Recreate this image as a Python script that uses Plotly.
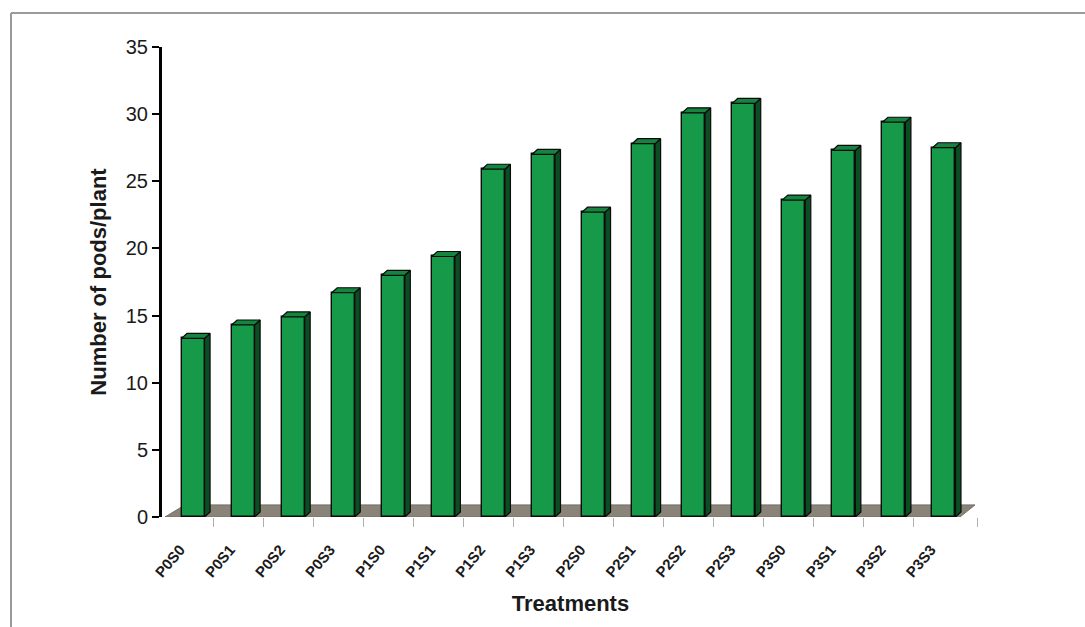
import plotly.graph_objects as go

# Treatment codes and mean number of pods per plant
treatments = ["P0S0", "P0S1", "P0S2", "P0S3", "P1S0", "P1S1", "P1S2", "P1S3",
              "P2S0", "P2S1", "P2S2", "P2S3", "P3S0", "P3S1", "P3S2", "P3S3"]
pods_per_plant = [13.3, 14.3, 14.9, 16.7, 18.0, 19.4, 25.9, 27.0,
                  22.7, 27.8, 30.1, 30.8, 23.6, 27.3, 29.4, 27.5]
y_ticks = [0, 5, 10, 15, 20, 25, 30, 35]

# pseudo-3D geometry (data units)
BAR_W = 0.46
DX, DY = 0.11, 0.37          # depth offset of bar tops/sides
FLOOR_DX, FLOOR_DY = 0.30, 0.9

xs = list(range(len(treatments)))

# canvas / plot-area layout in pixels
W, H = 1085, 627
L, R, T, B = 162, 106, 47, 110
X_RANGE = [-0.62, 15.7]
Y_RANGE = [0, 35]

fig = go.Figure()

# front faces
fig.add_trace(go.Bar(
    x=xs, y=pods_per_plant, width=BAR_W,
    marker=dict(color="#17994a", line=dict(color="#0a0a0a", width=1.4)),
    hoverinfo="skip", showlegend=False,
))

# right side faces and top faces as filled polygons
side_x, side_y, top_x, top_y = [], [], [], []
for x, v in zip(xs, pods_per_plant):
    xl, xr = x - BAR_W / 2, x + BAR_W / 2
    side_x += [xr, xr + DX, xr + DX, xr, xr, None]
    side_y += [0, DY, v + DY, v, 0, None]
    top_x += [xl, xl + DX, xr + DX, xr, xl, None]
    top_y += [v, v + DY, v + DY, v, v, None]

fig.add_trace(go.Scatter(
    x=side_x, y=side_y, mode="lines", fill="toself",
    fillcolor="#0c4d24", line=dict(color="#0a0a0a", width=1.2),
    hoverinfo="skip", showlegend=False,
))
fig.add_trace(go.Scatter(
    x=top_x, y=top_y, mode="lines", fill="toself",
    fillcolor="#15843f", line=dict(color="#0a0a0a", width=1.2),
    hoverinfo="skip", showlegend=False,
))

# grey floor under the bars
fx0, fx1 = xs[0] - 0.56, xs[-1] + 0.32
floor_path = (f"M {fx0},0 L {fx1},0 L {fx1 + FLOOR_DX},{FLOOR_DY} "
              f"L {fx0 + FLOOR_DX + 0.1},{FLOOR_DY} Z")
shapes = [dict(type="path", path=floor_path, xref="x", yref="y",
               fillcolor="#8a8378", line=dict(color="#766f65", width=1),
               layer="below")]

# thin frame along the top and left of the figure
pw, ph = W - L - R, H - T - B
def px_to_paper(px, py):
    return (px - L) / pw, (H - B - py) / ph

x_a, y_a = px_to_paper(11, 13)
x_b, y_b = px_to_paper(W, H)
shapes.append(dict(type="line", xref="paper", yref="paper",
                   x0=x_a, y0=y_a, x1=x_b, y1=y_a,
                   line=dict(color="#9a9a9a", width=2)))
shapes.append(dict(type="line", xref="paper", yref="paper",
                   x0=x_a, y0=y_a, x1=x_a, y1=y_b,
                   line=dict(color="#9a9a9a", width=2)))

fig.update_layout(
    width=W, height=H,
    margin=dict(l=L, r=R, t=T, b=B, pad=0),
    paper_bgcolor="white", plot_bgcolor="white",
    shapes=shapes,
    bargap=0,
    font=dict(family="Liberation Sans, Arial, sans-serif", color="#1a1a1a"),
)

fig.update_xaxes(
    range=X_RANGE, showgrid=False, zeroline=False, showline=False,
    tickmode="array", tickvals=xs, ticktext=treatments,
    tickangle=-50, ticks="", ticklabelstandoff=20, ticklabelshift=-13,
    tickfont=dict(size=15, weight="bold", color="#1a1a1a"),
    minor=dict(tickmode="array", tickvals=[x + 0.4 for x in xs[:-1]] + [15.66],
               ticks="outside", ticklen=9, tickwidth=1, tickcolor="#b0b0b0"),
    title=dict(text="Treatments", standoff=16,
               font=dict(size=22, weight="bold", color="#1a1a1a")),
)

fig.update_yaxes(
    range=Y_RANGE, showgrid=False, zeroline=False,
    showline=True, linecolor="#000000", linewidth=3,
    tickmode="array", tickvals=y_ticks,
    ticks="outside", ticklen=7, tickwidth=2, tickcolor="#000000",
    tickfont=dict(size=20, color="#1a1a1a"),
    title=dict(text="Number of pods/plant", standoff=14,
               font=dict(size=22, weight="bold", color="#1a1a1a")),
)

fig.write_html("out.html")
